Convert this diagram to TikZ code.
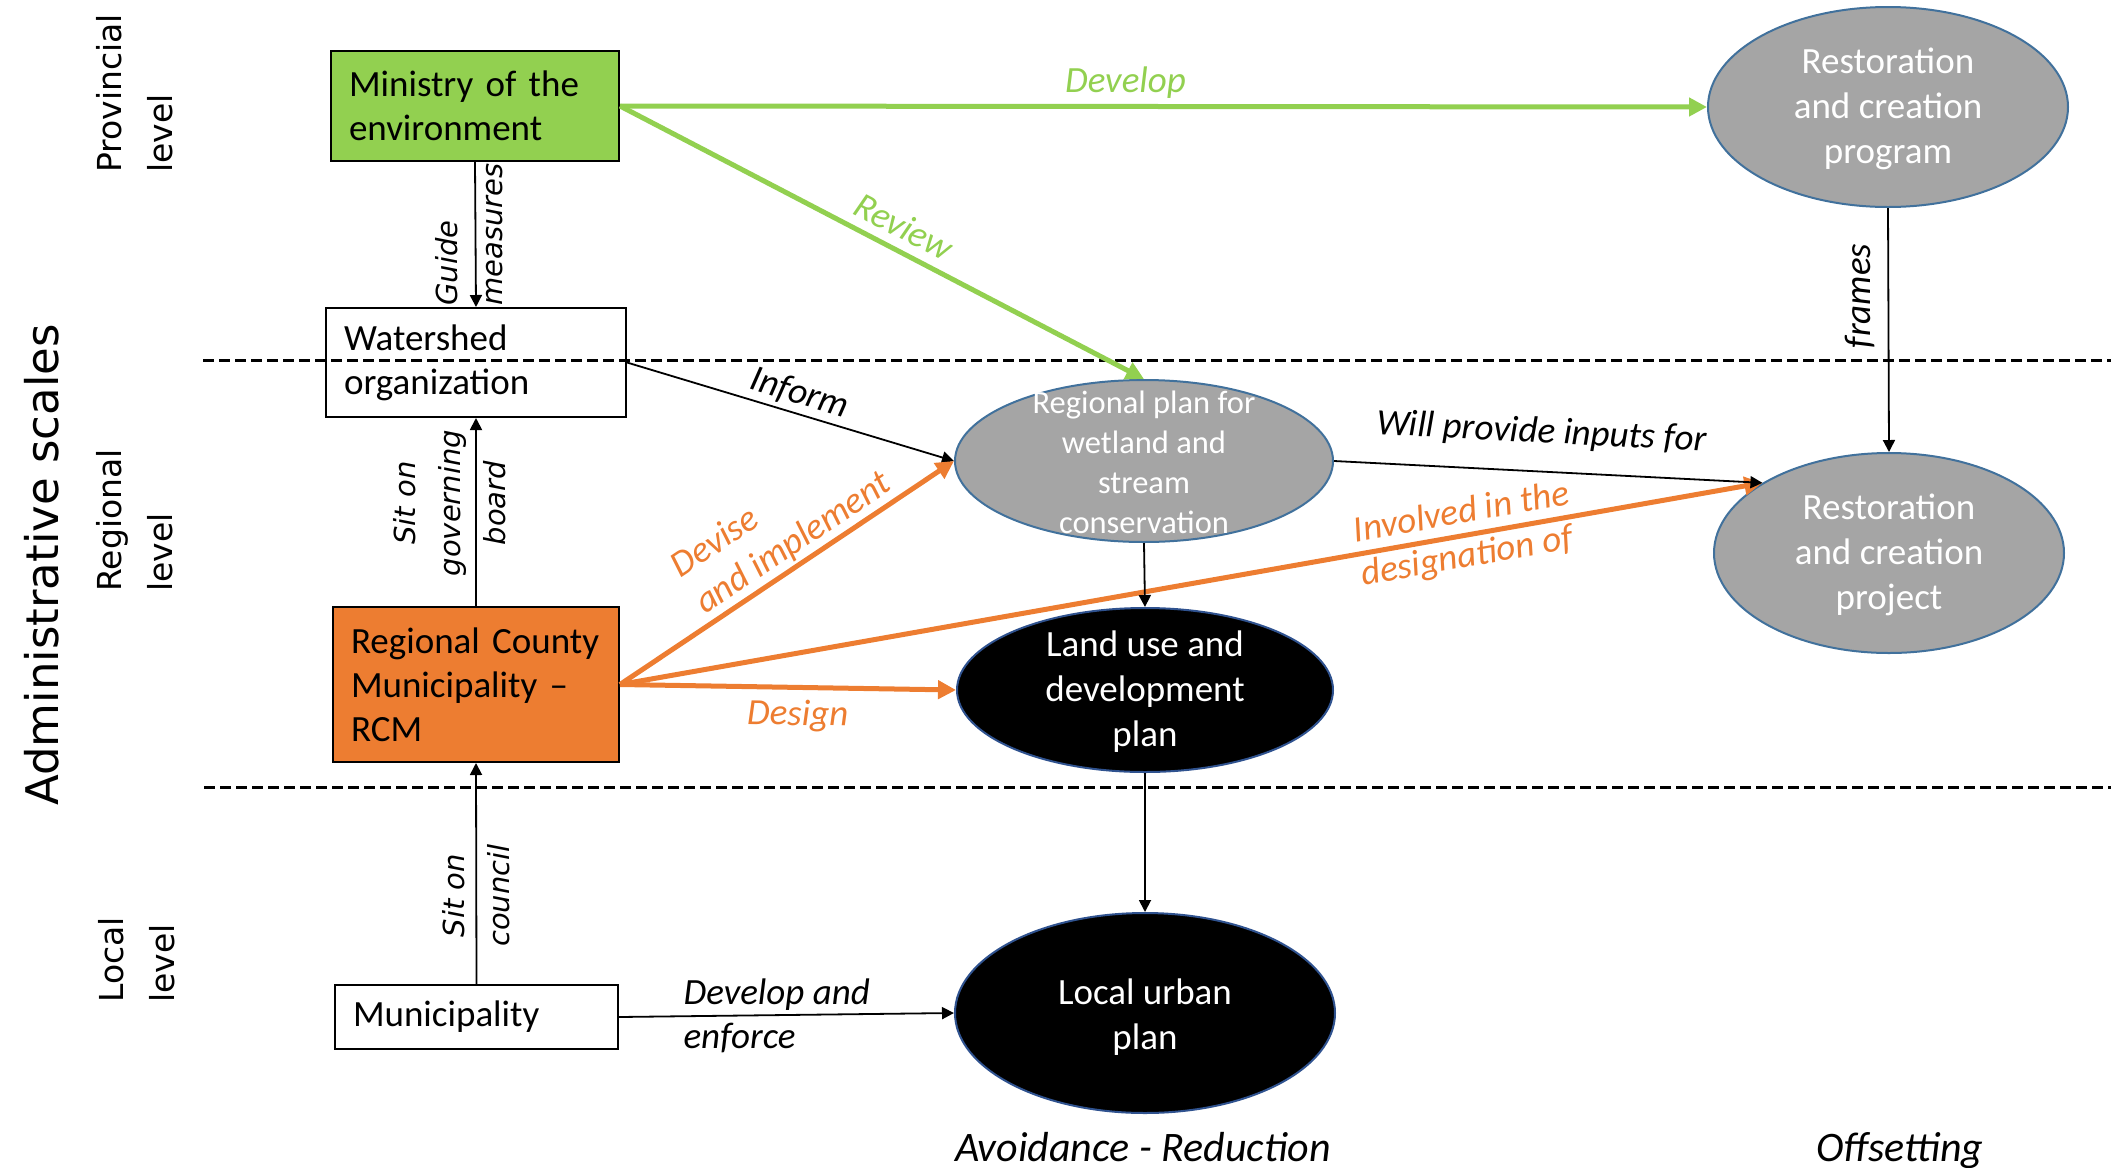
\documentclass[tikz,border=0pt]{standalone}
\usepackage{fontspec}
\setmainfont{Carlito}
\newfontfamily\dv{DejaVu Sans}
\usetikzlibrary{arrows.meta,shapes.geometric}
\definecolor{cgreen}{HTML}{92D050}
\definecolor{corange}{HTML}{ED7D31}
\definecolor{cgray}{HTML}{A5A5A5}
\definecolor{cblue}{HTML}{41719C}
\definecolor{cdblue}{HTML}{2F528F}
\tikzset{
 box/.style={draw, line width=1pt, rectangle, align=left, inner xsep=9pt, inner ysep=0pt, font=\fontsize{18.5pt}{22pt}\selectfont},
 ell/.style={ellipse, draw=cblue, line width=1pt, fill=cgray, inner sep=0pt},
 bell/.style={ellipse, draw=cdblue, line width=1pt, fill=black, inner sep=0pt},
 etext/.style={text=white, align=center, inner sep=0pt, font=\fontsize{18.5pt}{22.5pt}\selectfont},
 blk/.style={-{Triangle[length=6pt,width=6pt]}, line width=0.9pt},
 grn/.style={-{Triangle[length=9pt,width=9pt]}, line width=2.5pt, draw=cgreen},
 org/.style={-{Triangle[length=9pt,width=9pt]}, line width=2.5pt, draw=corange},
 lab/.style={font=\fontsize{18.5pt}{22pt}\selectfont\itshape, inner sep=0pt},
 vlab/.style={font=\dv\fontsize{14.5pt}{22.5pt}\selectfont\itshape, inner sep=0pt},
 lvl/.style={font=\dv\fontsize{16.5pt}{25.5pt}\selectfont, inner sep=0pt, rotate=90, align=left, anchor=north west},
 sepline/.style={dash pattern=on 5.5pt off 2.5pt, line width=1.5pt},
}
\begin{document}
\begin{tikzpicture}[x=0.5pt,y=-0.5pt]
\useasboundingbox (0,0) rectangle (2111,1168);

% level labels
\node[font=\dv\fontsize{22.5pt}{27pt}\selectfont, rotate=90, inner sep=0pt] (adm) at (42,565) {Administrative scales};
\node[lvl] (prov) at (96,173) {Provincial\\level};
\node[lvl] (reg) at (96,592) {Regional\\level};
\node[lvl] (loc) at (98,1003) {Local\\level};

% boxes
\node[box, fill=cgreen, minimum height=55pt, text width=126pt] (min) at (475,106) {Ministry of the\\environment};
\node[box, minimum height=54.5pt, text width=132pt] (ws) at (476,362.5) {Watershed\\organization};
\node[box, fill=corange, minimum height=77.5pt, text width=125pt] (rcm) at (476,684.5) {Regional County\\Municipality –\\RCM};
\node[box, minimum height=32pt, text width=123.5pt] (mun) at (476.5,1017) {Municipality};

% ellipses
\node[ell, minimum width=189pt, minimum height=81pt] (rp) at (1144,461) {};
\node[etext, font=\fontsize{16.25pt}{20pt}\selectfont] (rpt) at (1144,462) {Regional plan for\\wetland and\\stream\\conservation};
\node[bell, minimum width=188pt, minimum height=82pt] (lu) at (1145,690) {};
\node[etext] (lut) at (1145,692) {Land use and\\development\\plan};
\node[bell, minimum width=190pt, minimum height=100pt] (lup) at (1145,1013) {};
\node[etext] (lupt) at (1145,1017) {Local urban\\plan};
\node[ell, minimum width=180pt, minimum height=100pt] (prog) at (1888,107) {};
\node[etext] (progt) at (1888,109) {Restoration\\and creation\\program};
\node[ell, minimum width=175pt, minimum height=100pt] (proj) at (1889,553) {};
\node[etext] (projt) at (1889,555) {Restoration\\and creation\\project};

% dashed separators
\coordinate (s1a) at (203,360);
\coordinate (s1b) at (2111,360);
\coordinate (s2a) at (204,787);
\coordinate (s2b) at (2111,787);
\draw[sepline] (s1a) -- (s1b);
\draw[sepline] (s2a) -- (s2b);

% connectors
\draw[grn] (min.east) -- (prog.west) node[lab, text=cgreen, pos=0.465, above=3pt] {Develop};
\draw[grn] (min.east) -- (rp.north) node[lab, text=cgreen, pos=0.52, sloped, above=4.5pt] {Review};
\draw[blk] (ws.east) -- (rp.west) node[lab, pos=0.51, sloped, above=2.3pt] {Inform};
\draw[org] (rcm.east) -- (rp.west) node[lab, text=corange, align=left, pos=0.554, sloped, above=1pt] {Devise\\and implement};
\draw[org] (rcm.east) -- (lu.west) node[lab, text=corange, pos=0.53, sloped, below=5pt] {Design};
\draw[org] (rcm.east) -- (proj.151) node[lab, text=corange, align=left, pos=0.74, sloped] {Involved in the\\designation of};
\draw[blk] (rp.east) -- (proj.151) node[lab, pos=0.48, sloped, above=11pt] {Will provide inputs for};
\draw[blk] (prog.south) -- (proj.north) node[lab, pos=0.36, xshift=-14pt, rotate=90] {frames};
\draw[blk] (min.south) -- (ws.north) node[vlab, pos=0.5, xshift=-3pt, rotate=90, align=left] {Guide\\measures};
\draw[blk] (rcm.north) -- (ws.south) node[vlab, pos=0.547, xshift=-13pt, rotate=90, align=center] {Sit on\\governing\\board};
\draw[blk] (mun.north) -- (rcm.south) node[vlab, pos=0.40, rotate=90, align=center] {Sit on\\council};
\draw[blk] (rp.south) -- (lu.north);
\draw[blk] (lu.south) -- (lup.north);
\draw[blk] (mun.east) -- (lup.west) node[lab, pos=0.19, anchor=west, align=left] {Develop and\\enforce};

% bottom captions
\node[font=\fontsize{21pt}{25pt}\selectfont\itshape, anchor=base, inner sep=0pt] (avr) at (1143,1161) {Avoidance - Reduction};
\node[font=\fontsize{21pt}{25pt}\selectfont\itshape, anchor=base, inner sep=0pt] (off) at (1900,1161) {Offsetting};
\end{tikzpicture}
\end{document}
